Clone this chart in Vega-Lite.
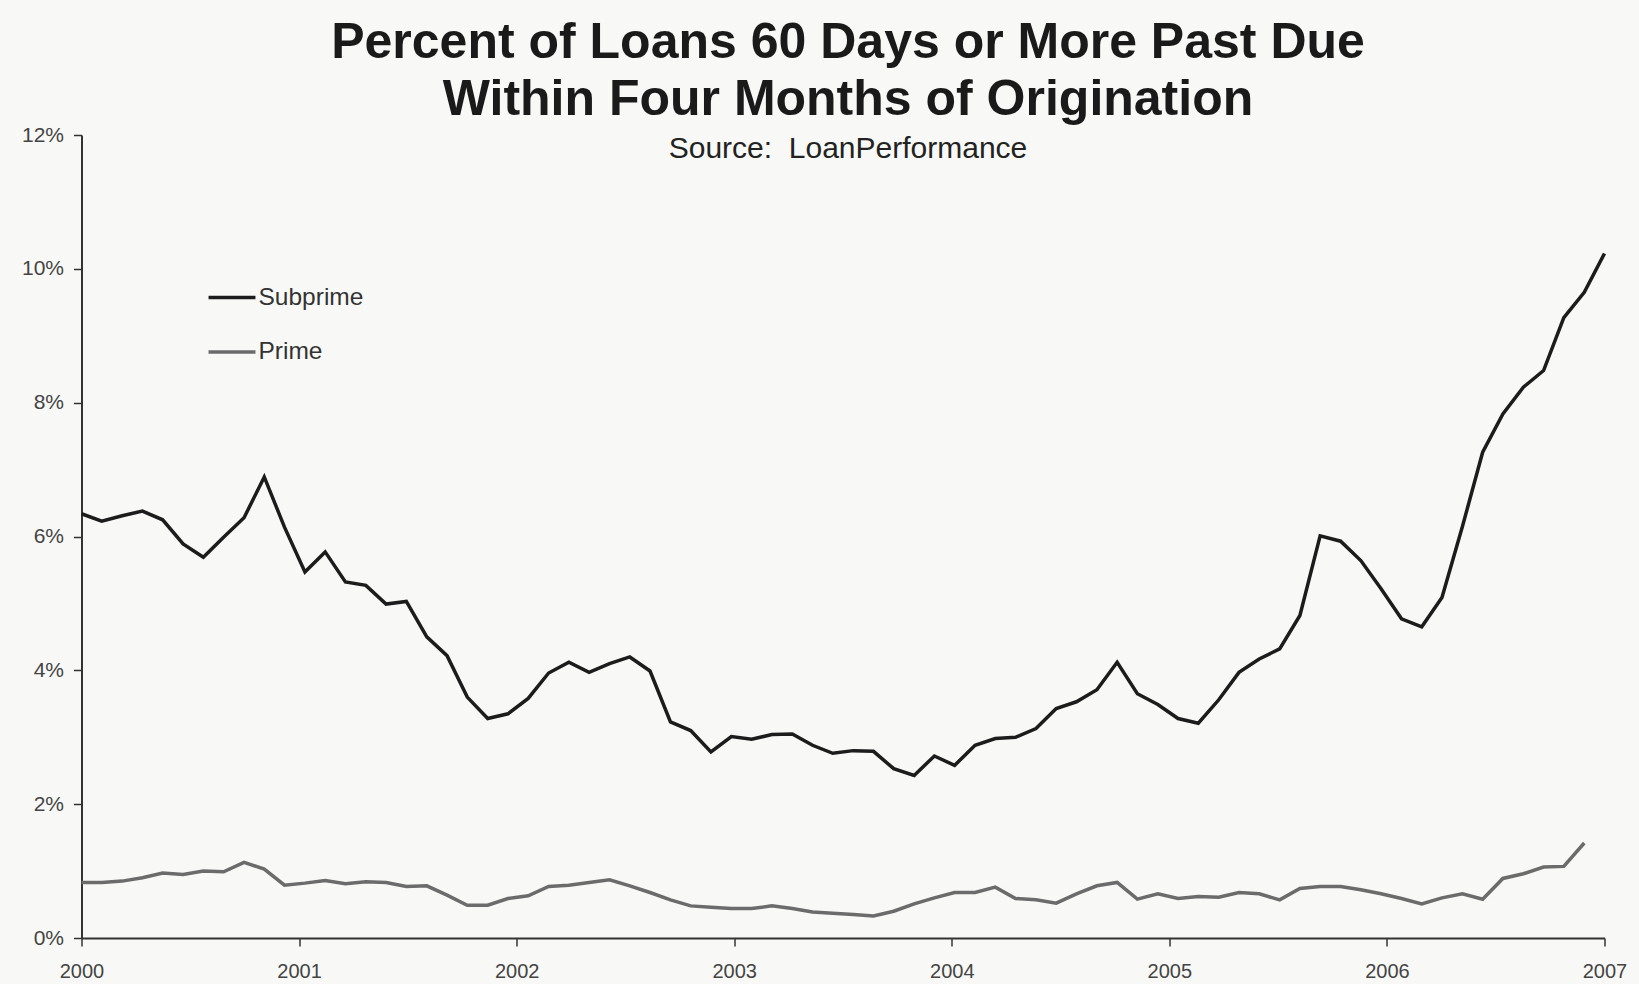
{
  "$schema": "https://vega.github.io/schema/vega-lite/v6.json",
  "width": 1523,
  "height": 803,
  "autosize": {"type": "none"},
  "padding": {"left": 81.5, "top": 135, "right": 34.5, "bottom": 46},
  "background": "#f8f9f6",
  "config": {"view": {"stroke": null}, "font": "Liberation Sans"},
  "title": {
    "text": ["Percent of Loans 60 Days or More Past Due", "Within Four Months of Origination"],
    "subtitle": "Source:\u00a0 LoanPerformance",
    "fontSize": 50,
    "fontWeight": "bold",
    "font": "Liberation Sans",
    "color": "#1a1a1a",
    "lineHeight": 57,
    "subtitleFontSize": 30,
    "subtitleFont": "Liberation Sans",
    "subtitleColor": "#222222",
    "subtitlePadding": 9,
    "anchor": "middle",
    "dx": 5,
    "offset": -40
  },
  "data": {
    "values": [
      {"t": 2000.000, "Subprime": 6.34, "Prime": 0.83},
      {"t": 2000.093, "Subprime": 6.23, "Prime": 0.83},
      {"t": 2000.187, "Subprime": 6.31, "Prime": 0.85},
      {"t": 2000.280, "Subprime": 6.38, "Prime": 0.90},
      {"t": 2000.373, "Subprime": 6.25, "Prime": 0.97},
      {"t": 2000.467, "Subprime": 5.89, "Prime": 0.95},
      {"t": 2000.560, "Subprime": 5.69, "Prime": 1.00},
      {"t": 2000.653, "Subprime": 5.99, "Prime": 0.99},
      {"t": 2000.747, "Subprime": 6.28, "Prime": 1.13},
      {"t": 2000.840, "Subprime": 6.89, "Prime": 1.03},
      {"t": 2000.933, "Subprime": 6.14, "Prime": 0.79},
      {"t": 2001.027, "Subprime": 5.47, "Prime": 0.82},
      {"t": 2001.120, "Subprime": 5.77, "Prime": 0.86},
      {"t": 2001.213, "Subprime": 5.32, "Prime": 0.81},
      {"t": 2001.307, "Subprime": 5.27, "Prime": 0.84},
      {"t": 2001.400, "Subprime": 4.99, "Prime": 0.83},
      {"t": 2001.493, "Subprime": 5.03, "Prime": 0.77},
      {"t": 2001.587, "Subprime": 4.50, "Prime": 0.78},
      {"t": 2001.680, "Subprime": 4.22, "Prime": 0.64},
      {"t": 2001.773, "Subprime": 3.60, "Prime": 0.49},
      {"t": 2001.867, "Subprime": 3.28, "Prime": 0.49},
      {"t": 2001.960, "Subprime": 3.35, "Prime": 0.59},
      {"t": 2002.053, "Subprime": 3.58, "Prime": 0.63},
      {"t": 2002.147, "Subprime": 3.96, "Prime": 0.77},
      {"t": 2002.240, "Subprime": 4.12, "Prime": 0.79},
      {"t": 2002.333, "Subprime": 3.97, "Prime": 0.83},
      {"t": 2002.427, "Subprime": 4.10, "Prime": 0.87},
      {"t": 2002.520, "Subprime": 4.20, "Prime": 0.78},
      {"t": 2002.613, "Subprime": 3.99, "Prime": 0.68},
      {"t": 2002.707, "Subprime": 3.23, "Prime": 0.57},
      {"t": 2002.800, "Subprime": 3.10, "Prime": 0.48},
      {"t": 2002.893, "Subprime": 2.78, "Prime": 0.46},
      {"t": 2002.987, "Subprime": 3.01, "Prime": 0.44},
      {"t": 2003.080, "Subprime": 2.97, "Prime": 0.44},
      {"t": 2003.173, "Subprime": 3.04, "Prime": 0.48},
      {"t": 2003.267, "Subprime": 3.05, "Prime": 0.44},
      {"t": 2003.360, "Subprime": 2.88, "Prime": 0.39},
      {"t": 2003.453, "Subprime": 2.76, "Prime": 0.37},
      {"t": 2003.547, "Subprime": 2.80, "Prime": 0.35},
      {"t": 2003.640, "Subprime": 2.79, "Prime": 0.33},
      {"t": 2003.733, "Subprime": 2.53, "Prime": 0.40},
      {"t": 2003.827, "Subprime": 2.43, "Prime": 0.51},
      {"t": 2003.920, "Subprime": 2.72, "Prime": 0.60},
      {"t": 2004.013, "Subprime": 2.58, "Prime": 0.68},
      {"t": 2004.107, "Subprime": 2.88, "Prime": 0.68},
      {"t": 2004.200, "Subprime": 2.98, "Prime": 0.76},
      {"t": 2004.293, "Subprime": 3.00, "Prime": 0.59},
      {"t": 2004.387, "Subprime": 3.13, "Prime": 0.57},
      {"t": 2004.480, "Subprime": 3.43, "Prime": 0.52},
      {"t": 2004.573, "Subprime": 3.53, "Prime": 0.66},
      {"t": 2004.667, "Subprime": 3.71, "Prime": 0.78},
      {"t": 2004.760, "Subprime": 4.12, "Prime": 0.83},
      {"t": 2004.853, "Subprime": 3.65, "Prime": 0.58},
      {"t": 2004.947, "Subprime": 3.49, "Prime": 0.66},
      {"t": 2005.040, "Subprime": 3.28, "Prime": 0.59},
      {"t": 2005.133, "Subprime": 3.21, "Prime": 0.62},
      {"t": 2005.227, "Subprime": 3.56, "Prime": 0.61},
      {"t": 2005.320, "Subprime": 3.97, "Prime": 0.68},
      {"t": 2005.413, "Subprime": 4.17, "Prime": 0.66},
      {"t": 2005.507, "Subprime": 4.32, "Prime": 0.57},
      {"t": 2005.600, "Subprime": 4.82, "Prime": 0.74},
      {"t": 2005.693, "Subprime": 6.01, "Prime": 0.77},
      {"t": 2005.787, "Subprime": 5.93, "Prime": 0.77},
      {"t": 2005.880, "Subprime": 5.64, "Prime": 0.72},
      {"t": 2005.973, "Subprime": 5.22, "Prime": 0.66},
      {"t": 2006.067, "Subprime": 4.77, "Prime": 0.59},
      {"t": 2006.160, "Subprime": 4.65, "Prime": 0.51},
      {"t": 2006.253, "Subprime": 5.09, "Prime": 0.60},
      {"t": 2006.347, "Subprime": 6.15, "Prime": 0.66},
      {"t": 2006.440, "Subprime": 7.26, "Prime": 0.58},
      {"t": 2006.533, "Subprime": 7.83, "Prime": 0.89},
      {"t": 2006.627, "Subprime": 8.23, "Prime": 0.96},
      {"t": 2006.720, "Subprime": 8.48, "Prime": 1.06},
      {"t": 2006.813, "Subprime": 9.27, "Prime": 1.07},
      {"t": 2006.907, "Subprime": 9.65, "Prime": 1.42},
      {"t": 2007.000, "Subprime": 10.23}
    ]
  },
  "transform": [{"fold": ["Subprime", "Prime"], "as": ["series", "value"]}],
  "mark": {"type": "line", "strokeWidth": 3.5},
  "encoding": {
    "x": {
      "field": "t",
      "type": "quantitative",
      "scale": {"domain": [2000, 2007], "nice": false, "zero": false},
      "axis": {
        "values": [2000, 2001, 2002, 2003, 2004, 2005, 2006, 2007],
        "format": "d",
        "title": null,
        "grid": false,
        "domainColor": "#333333",
        "domainWidth": 2,
        "tickColor": "#333333",
        "tickWidth": 1.5,
        "tickSize": 8,
        "labelFontSize": 20,
        "labelColor": "#444444",
        "labelPadding": 15,
        "labelFlush": false
      }
    },
    "y": {
      "field": "value",
      "type": "quantitative",
      "scale": {"domain": [0, 12], "nice": false},
      "axis": {
        "values": [0, 2, 4, 6, 8, 10, 12],
        "labelExpr": "datum.value + '%'",
        "title": null,
        "grid": false,
        "domainColor": "#333333",
        "domainWidth": 2,
        "tickColor": "#333333",
        "tickWidth": 1.5,
        "tickSize": 8,
        "labelFontSize": 21,
        "labelColor": "#444444",
        "labelPadding": 10
      }
    },
    "color": {
      "field": "series",
      "type": "nominal",
      "scale": {"domain": ["Subprime", "Prime"], "range": ["#1c1c1c", "#6b6b6b"]},
      "legend": {
        "orient": "none",
        "legendX": 125,
        "legendY": 137,
        "title": null,
        "symbolType": "stroke",
        "symbolSize": 2200,
        "symbolStrokeWidth": 3.5,
        "labelFontSize": 24.5,
        "labelColor": "#333333",
        "labelOffset": 1,
        "rowPadding": 17.5
      }
    }
  }
}
